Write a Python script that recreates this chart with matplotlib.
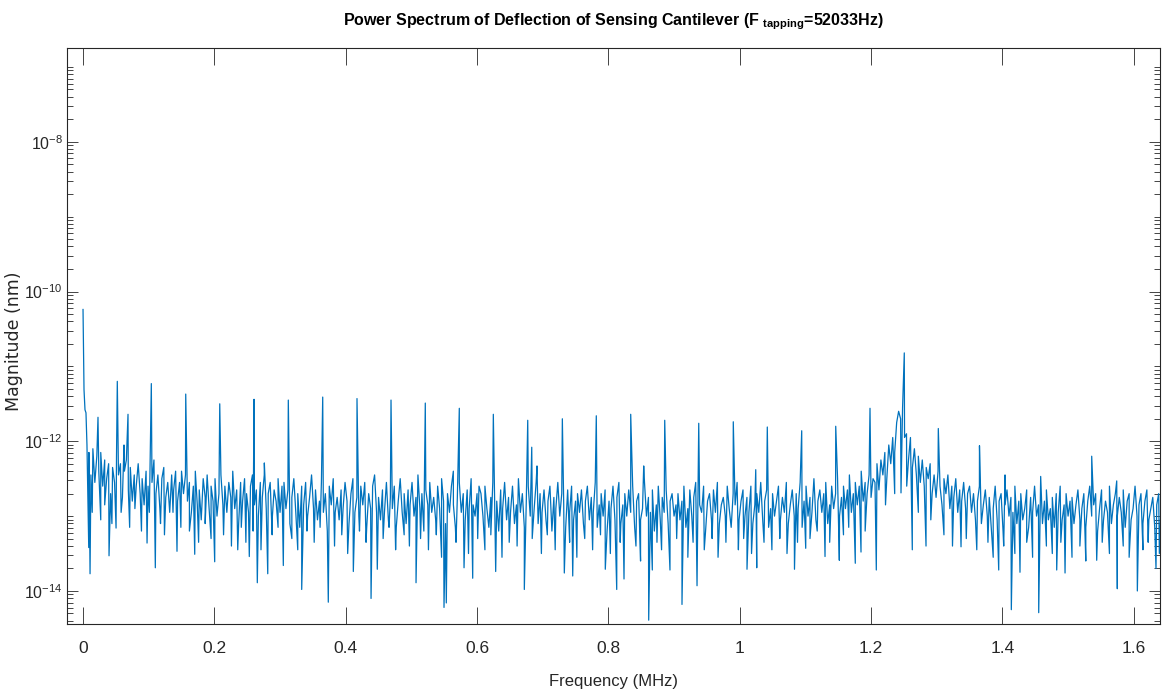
import numpy as np
import matplotlib
matplotlib.use('Agg')
import matplotlib.pyplot as plt
from matplotlib import font_manager
from matplotlib.ticker import FixedLocator, NullFormatter, FuncFormatter

# --- data (log10 of magnitude in nm) ---
STEP = 0.003  # MHz between noise samples

# start of the spectrum (DC component falling off)
dc_freq = [0.0, 0.0015, 0.003, 0.0045]
dc_log = [-10.24, -11.31, -11.58, -11.62]

# noise floor, one list per 0.15 MHz block: (start frequency, values)
noise_006 = [-12.05, -12.15, -12.45, -12.10, -12.55, -12.20, -12.40, -12.15, -12.60, -12.25,
             -12.50, -12.30, -12.70, -12.35, -12.55, -12.20, -12.45, -12.30, -12.75, -12.40,
             -12.25, -12.65, -12.35, -12.80, -12.45, -12.60, -12.30, -12.70, -12.50, -12.85,
             -12.40, -12.60, -12.35, -12.55, -12.25, -12.70, -12.45, -12.90, -12.50, -12.35,
             -12.75, -12.55, -12.95, -12.45, -12.65, -12.40, -12.80, -12.55, -12.40, -12.70]
noise_156 = [-12.45, -12.80, -12.55, -12.95, -12.60, -12.40, -12.85, -12.65, -13.05, -12.50,
             -12.75, -12.45, -12.90, -12.60, -12.80, -12.50, -13.00, -12.70, -12.45, -12.85,
             -12.60, -12.95, -12.55, -12.75, -12.40, -12.90, -12.65, -13.10, -12.55, -12.80,
             -12.50, -12.70, -12.95, -12.60, -12.45, -12.85, -12.65, -13.00, -12.55, -12.75,
             -12.45, -12.90, -12.70, -12.55, -13.05, -12.65, -12.80, -12.50, -12.95, -12.60]
noise_306 = [-12.55, -12.90, -12.65, -13.10, -12.75, -12.50, -12.95, -12.70, -13.15, -12.60,
             -12.85, -12.55, -13.00, -12.75, -12.45, -12.90, -12.65, -13.05, -12.80, -12.55,
             -12.95, -12.70, -13.20, -12.60, -12.85, -12.50, -12.95, -12.75, -13.05, -12.65,
             -12.90, -12.55, -12.80, -13.10, -12.70, -12.50, -12.95, -12.75, -13.00, -12.60,
             -12.85, -12.55, -13.15, -12.70, -12.90, -12.60, -12.45, -12.95, -12.75, -13.05]
noise_456 = [-12.65, -12.95, -12.55, -13.05, -12.75, -12.90, -12.60, -13.15, -12.80, -12.50,
             -12.95, -12.70, -13.10, -12.65, -12.85, -12.55, -13.00, -12.75, -12.45, -12.90,
             -12.70, -13.20, -12.65, -12.85, -12.55, -12.95, -12.75, -13.05, -12.60, -12.90,
             -12.50, -12.80, -13.10, -12.70, -12.95, -12.60, -12.85, -13.15, -12.75, -12.55,
             -12.95, -12.70, -13.05, -12.65, -12.90, -12.50, -12.85, -13.00, -12.70, -12.60]
noise_606 = [-12.70, -13.00, -12.60, -12.90, -13.15, -12.75, -12.55, -12.95, -12.80, -13.20,
             -12.65, -12.90, -12.55, -13.05, -12.75, -12.95, -12.60, -13.10, -12.85, -12.50,
             -12.95, -12.70, -13.15, -12.80, -12.60, -13.00, -12.75, -12.90, -12.55, -13.10,
             -12.70, -12.95, -12.65, -13.05, -12.80, -12.60, -13.20, -12.75, -12.90, -12.55,
             -13.00, -12.70, -12.85, -13.15, -12.65, -12.95, -12.60, -13.05, -12.80, -12.70]
noise_756 = [-12.95, -12.65, -13.10, -12.80, -12.60, -13.05, -12.75, -12.95, -12.55, -13.15,
             -12.85, -12.70, -13.00, -12.65, -13.20, -12.80, -12.90, -12.60, -13.05, -12.75,
             -12.55, -13.10, -12.85, -12.70, -13.00, -12.65, -12.95, -12.60, -13.15, -12.80,
             -12.70, -13.05, -12.90, -12.55, -13.00, -12.75, -12.95, -12.65, -13.20, -12.85,
             -12.60, -13.05, -12.75, -12.95, -12.65, -13.10, -12.80, -12.70, -13.00, -12.85]
noise_906 = [-12.70, -13.05, -12.80, -12.60, -13.15, -12.90, -12.65, -13.00, -12.75, -12.55,
             -13.10, -12.85, -12.95, -12.60, -13.20, -12.80, -12.70, -13.05, -12.65, -12.95,
             -12.55, -13.10, -12.85, -12.75, -13.00, -12.60, -12.90, -13.15, -12.70, -12.85,
             -12.55, -13.05, -12.80, -12.65, -13.00, -12.75, -12.95, -12.60, -13.10, -12.85,
             -12.70, -12.95, -12.55, -13.05, -12.80, -12.65, -13.15, -12.90, -12.70, -13.00]
noise_1056 = [-12.80, -12.60, -13.05, -12.75, -12.95, -12.55, -13.10, -12.85, -12.65, -13.00,
              -12.70, -12.90, -12.55, -13.15, -12.80, -12.60, -13.00, -12.75, -12.95, -12.50,
              -13.05, -12.80, -12.65, -12.95, -12.70, -12.55, -13.10, -12.85, -12.60, -12.90,
              -12.70, -12.50, -13.00, -12.75, -12.60, -12.90, -12.65, -12.45, -12.95, -12.70,
              -12.55, -12.85, -12.60, -12.40, -12.80, -12.55, -12.70, -12.45, -12.75, -12.50]
noise_1206 = [-12.55, -12.30, -12.65, -12.25, -12.45, -12.15, -12.50, -12.05, -12.30, -11.95,
              -12.15, -11.75, -11.60, -11.70, -11.55, -11.95, -11.90, -12.25, -11.95, -12.35,
              -12.10, -12.45, -12.20, -12.55, -12.25, -12.60, -12.35, -12.50, -12.30, -12.70,
              -12.45, -12.75, -12.40, -12.60, -12.85, -12.50, -12.70, -12.45, -12.90, -12.60,
              -12.75, -12.50, -12.95, -12.65, -12.80, -12.55, -12.90, -12.70, -12.60, -12.95]
noise_1356 = [-12.70, -13.05, -12.80, -12.60, -13.10, -12.85, -12.65, -13.00, -12.75, -13.15,
              -12.90, -12.60, -13.05, -12.80, -12.70, -13.20, -12.85, -12.65, -13.00, -12.75,
              -12.95, -12.60, -13.10, -12.80, -12.70, -13.05, -12.90, -12.65, -13.15, -12.75,
              -12.95, -12.60, -13.00, -12.85, -12.70, -13.10, -12.80, -12.65, -13.05, -12.90,
              -12.75, -13.15, -12.70, -12.95, -12.60, -13.05, -12.85, -12.70, -13.00, -12.80]
noise_1506 = [-12.75, -13.10, -12.85, -12.65, -13.05, -12.90, -12.70, -13.15, -12.80, -12.60,
              -13.00, -12.85, -12.70, -13.20, -12.90, -12.65, -13.05, -12.80, -12.95, -12.60,
              -13.10, -12.85, -12.70, -13.00, -12.75, -12.95, -12.65, -13.15, -12.80, -12.70,
              -13.05, -12.90, -12.60, -13.00, -12.85, -12.70, -13.10, -12.80, -12.65, -13.05,
              -12.90, -12.75, -13.15, -12.85, -12.70, -13.00]
noise_blocks = [(0.006, noise_006), (0.156, noise_156), (0.306, noise_306), (0.456, noise_456),
                (0.606, noise_606), (0.756, noise_756), (0.906, noise_906), (1.056, noise_1056),
                (1.206, noise_1206), (1.356, noise_1356), (1.506, noise_1506)]

# harmonics of the tapping frequency (MHz) and their peak values
harm_freq = [0.0522, 0.1040, 0.1564, 0.2082, 0.2604, 0.3126, 0.3650, 0.4172, 0.4690, 0.5212,
             0.5730, 0.6248, 0.6772, 0.7299, 0.7816, 0.8340, 0.8858, 0.9376, 0.9902, 1.0420,
             1.0944, 1.1462, 1.1984, 1.2506, 1.3024]
harm_log = [-11.20, -11.23, -11.37, -11.50, -11.44, -11.45, -11.41, -11.43, -11.45, -11.49,
            -11.56, -11.64, -11.72, -11.70, -11.66, -11.64, -11.72, -11.76, -11.74, -11.81,
            -11.86, -11.80, -11.56, -10.82, -11.83]

# smaller isolated spikes
spike_freq = [0.0228, 0.0624, 0.0685, 0.2761, 0.5639, 0.6833, 0.6913, 0.8538, 1.0244, 1.3651,
              1.4040, 1.4583, 1.5360, 1.5741]
spike_log = [-11.68, -12.05, -11.64, -12.29, -12.40, -12.08, -12.33, -12.33, -12.38, -12.06,
             -12.45, -12.47, -12.20, -12.53]

# deep dips
dip_freq = [0.0087, 0.0107, 0.0396, 0.0503, 0.0975, 0.1101, 0.1431, 0.1701, 0.2005, 0.2356,
            0.2532, 0.2654, 0.2813, 0.3050, 0.3330, 0.3735, 0.4116, 0.4386, 0.4481, 0.5071,
            0.5497, 0.5532, 0.5802, 0.5934, 0.6284, 0.6720, 0.7329, 0.7457, 0.7953, 0.8127,
            0.8238, 0.8614, 0.8669, 0.8938, 0.9121, 0.9350, 1.0111, 1.0259, 1.0834, 1.1005,
            1.1299, 1.1517, 1.1760, 1.1847, 1.2080, 1.2456, 1.2543, 1.2628, 1.2837, 1.3370,
            1.3944, 1.4136, 1.4268, 1.4553, 1.4827, 1.4954, 1.5436, 1.5750, 1.6055, 1.6339]
dip_log = [-13.42, -13.77, -13.53, -13.16, -13.36, -13.69, -13.47, -13.51, -13.61, -13.45,
           -13.54, -13.89, -13.77, -13.66, -13.98, -14.15, -13.74, -14.10, -13.71, -13.89,
           -14.22, -14.16, -13.69, -13.83, -13.74, -13.98, -13.76, -13.80, -13.71, -13.98,
           -13.84, -14.39, -13.72, -13.72, -14.18, -13.93, -13.71, -13.69, -13.71, -13.43,
           -13.54, -13.59, -13.63, -13.48, -13.72, -12.69, -12.60, -13.45, -13.40, -13.41,
           -13.72, -14.25, -13.75, -14.29, -13.72, -13.76, -13.59, -13.97, -14.00, -13.70]

# shallower dips that thicken the lower edge of the noise band
low_freq = [0.014, 0.027, 0.033, 0.044, 0.058, 0.071, 0.079, 0.089, 0.101, 0.118, 0.124, 0.137,
            0.149, 0.162, 0.176, 0.186, 0.195, 0.214, 0.226, 0.241, 0.248, 0.259, 0.271, 0.288,
            0.297, 0.318, 0.327, 0.341, 0.352, 0.361, 0.383, 0.394, 0.403, 0.421, 0.431, 0.457,
            0.466, 0.476, 0.489, 0.497, 0.514, 0.526, 0.538, 0.546, 0.568, 0.587, 0.601, 0.612,
            0.621, 0.638, 0.649, 0.661, 0.684, 0.698, 0.707, 0.719, 0.741, 0.752, 0.764, 0.776,
            0.788, 0.803, 0.818, 0.842, 0.849, 0.874, 0.881, 0.904, 0.921, 0.929, 0.946, 0.958,
            0.967, 0.979, 0.998, 1.006, 1.018, 1.037, 1.049, 1.061, 1.072, 1.088, 1.107, 1.118,
            1.137, 1.158, 1.166, 1.191, 1.222, 1.236, 1.272, 1.291, 1.311, 1.324, 1.345, 1.361,
            1.378, 1.386, 1.402, 1.419, 1.437, 1.446, 1.467, 1.476, 1.489, 1.506, 1.518, 1.527,
            1.552, 1.563, 1.584, 1.593, 1.614, 1.622, 1.639]
low_log = [-12.95, -13.05, -12.85, -13.10, -12.95, -13.15, -12.90, -13.20, -12.95, -13.10, -13.25, -12.95,
           -13.15, -13.20, -13.35, -13.10, -13.30, -13.25, -13.40, -13.15, -13.35, -13.20, -13.45, -13.25,
           -13.15, -13.30, -13.45, -13.20, -13.35, -13.15, -13.40, -13.25, -13.50, -13.20, -13.35, -13.30,
           -13.15, -13.45, -13.25, -13.40, -13.30, -13.45, -13.25, -13.55, -13.35, -13.50, -13.30, -13.45,
           -13.25, -13.55, -13.35, -13.40, -13.30, -13.50, -13.25, -13.45, -13.35, -13.55, -13.30, -13.45,
           -13.25, -13.50, -13.35, -13.40, -13.60, -13.35, -13.45, -13.30, -13.55, -13.35, -13.45, -13.30,
           -13.55, -13.35, -13.45, -13.30, -13.50, -13.35, -13.45, -13.30, -13.50, -13.35, -13.30, -13.20,
           -13.35, -13.25, -13.15, -13.20, -12.85, -12.70, -12.95, -13.05, -13.25, -13.40, -13.30, -13.45,
           -13.35, -13.55, -13.40, -13.50, -13.35, -13.55, -13.40, -13.50, -13.35, -13.55, -13.40, -13.60,
           -13.35, -13.50, -13.40, -13.55, -13.45, -13.35, -13.50]

# --- assemble one spectrum ---
freqs = list(dc_freq) + list(harm_freq) + list(spike_freq) + list(dip_freq) + list(low_freq)
logs = list(dc_log) + list(harm_log) + list(spike_log) + list(dip_log) + list(low_log)
for start, vals in noise_blocks:
    freqs += list(start + STEP * np.arange(len(vals)))
    logs += vals
freqs = np.array(freqs)
logs = np.array(logs)
order = np.argsort(freqs)
freqs = freqs[order]
mag = 10.0 ** logs[order]

# --- fonts ---
names = {f.name for f in font_manager.fontManager.ttflist}
narrow = 'Liberation Sans Narrow' if 'Liberation Sans Narrow' in names else 'Liberation Sans'
plt.rcParams['font.family'] = [narrow, 'DejaVu Sans']
plt.rcParams['mathtext.fontset'] = 'custom'
plt.rcParams['mathtext.rm'] = narrow
plt.rcParams['mathtext.bf'] = narrow + ':bold'

ink = '#262626'
fig = plt.figure(figsize=(11.62, 6.95), dpi=100)
ax = fig.add_axes([67 / 1162, 1 - 624 / 695, (1160 - 67) / 1162, (624 - 48) / 695])

ax.plot(freqs, mag, color='#0072BD', linewidth=0.9)

ax.set_yscale('log')
ax.set_xlim(-0.0244, 1.640)
ax.set_ylim(3.62e-15, 1.79e-7)

ax.xaxis.set_major_locator(FixedLocator([0, 0.2, 0.4, 0.6, 0.8, 1.0, 1.2, 1.4, 1.6]))
ax.xaxis.set_major_formatter(FuncFormatter(lambda v, p: '%g' % v))

major_y = [1e-14, 1e-12, 1e-10, 1e-8]
minor_y = [k * 10.0 ** e for e in range(-15, -6) for k in range(1, 10) if k * 10.0 ** e not in major_y]
ax.yaxis.set_major_locator(FixedLocator(major_y))
ax.yaxis.set_minor_locator(FixedLocator(minor_y))
ax.yaxis.set_minor_formatter(NullFormatter())
ax.yaxis.set_major_formatter(FuncFormatter(lambda v, p: r'$\mathregular{10^{%d}}$' % round(np.log10(v))))

ax.tick_params(axis='x', which='major', direction='in', length=12.5, width=0.6, color=ink,
               top=True, labelsize=12.5, labelcolor=ink, pad=12)
ax.tick_params(axis='x', which='minor', bottom=False, top=False)
ax.tick_params(axis='y', which='major', direction='in', length=8, width=0.6, color=ink,
               right=True, labelsize=11.5, labelcolor=ink, pad=3)
ax.tick_params(axis='y', which='minor', direction='in', length=4.3, width=0.6, color=ink, right=True)
for s in ax.spines.values():
    s.set_color(ink)
    s.set_linewidth(0.8)

ax.set_xlabel('Frequency (MHz)', fontsize=12, color=ink, labelpad=13)
ax.set_ylabel('Magnitude (nm)', fontsize=12.5, color=ink, family=['DejaVu Sans'], va='center')
ax.yaxis.set_label_coords(-0.0485, 0.491)
ax.set_title(r'Power Spectrum of Deflection of Sensing Cantilever (F $_{\mathbf{tapping}}$=52033Hz)',
             fontsize=11.5, fontweight='bold', color='black', pad=16)

fig.savefig('out.png', dpi=100)
